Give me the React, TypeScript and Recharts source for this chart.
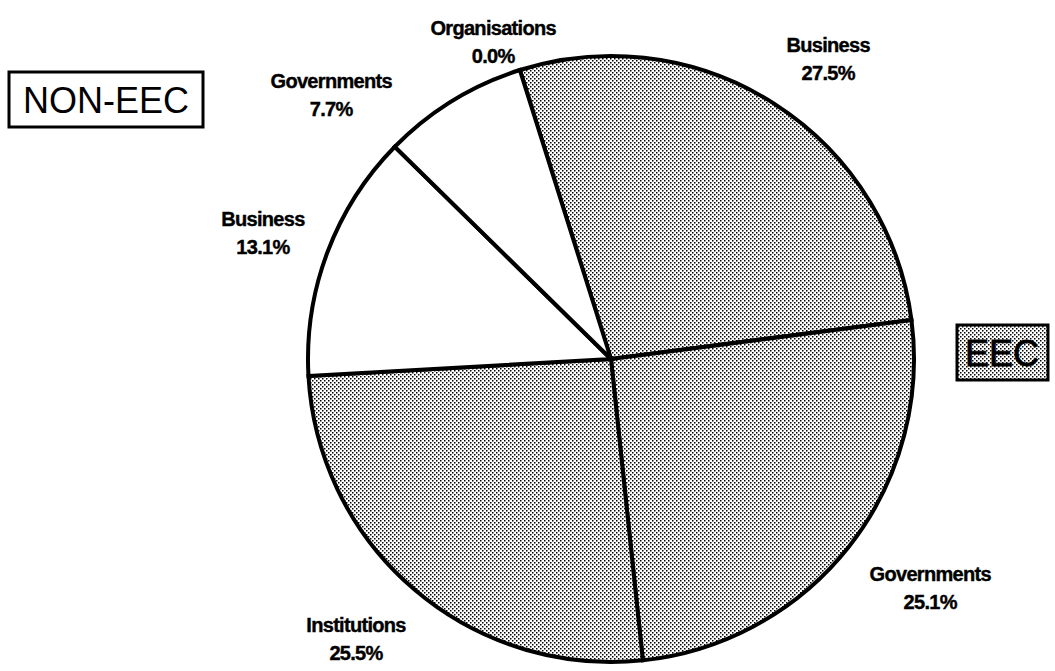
import React from "react";
import { PieChart, Pie, Cell } from "recharts";

const categories = ["Business", "Governments", "Institutions", "Business", "Governments", "Organisations"];
const groups = ["EEC", "EEC", "EEC", "NON-EEC", "NON-EEC", "NON-EEC"];
const shares = [27.5, 25.1, 25.5, 13.1, 7.7, 0.0];
const valueLabels = ["27.5%", "25.1%", "25.5%", "13.1%", "7.7%", "0.0%"];

// label layout (polar, relative to slice mid-angle)
const labelRadius = [370, 393, 379, 370, 385, 338];
const labelAngleShift = [-3.4, 2.6, -1.9, 0.8, 15.1, 2.9];

const data = categories.map((c, i) => ({ name: c, group: groups[i], value: shares[i], label: valueLabels[i] }));

const FONT = "'Liberation Sans', Arial, Helvetica, sans-serif";

const renderLabel = (props: any) => {
  const { cx, cy, midAngle, index } = props;
  const a = ((midAngle + labelAngleShift[index]) * Math.PI) / 180;
  const r = labelRadius[index];
  const x = cx + r * Math.cos(a);
  const y = cy - r * Math.sin(a);
  return (
    <text
      key={"lbl" + index}
      x={x}
      y={y}
      textAnchor="middle"
      fontFamily={FONT}
      fontWeight="bold"
      fontSize={20}
      letterSpacing={-0.7}
      fill="#000"
      stroke="#000"
      strokeWidth={0.4}
    >
      <tspan x={x} y={y - 7}>{categories[index]}</tspan>
      <tspan x={x} y={y + 21}>{valueLabels[index]}</tspan>
    </text>
  );
};

export default function App() {
  return (
    <div style={{ position: "absolute", left: 0, top: 0, width: 1055, height: 671, background: "#fff", overflow: "hidden" }}>
      <svg width={0} height={0} style={{ position: "absolute" }}>
        <defs>
          <pattern id="dots" width={4} height={4} patternUnits="userSpaceOnUse">
            <rect width={4} height={4} fill="#fff" />
            <rect x={0} y={0} width={1.5} height={1.5} fill="#000" />
            <rect x={2} y={2} width={1.5} height={1.5} fill="#000" />
          </pattern>
        </defs>
      </svg>
      <PieChart width={1055} height={671}>
        <Pie
          data={data}
          dataKey="value"
          nameKey="name"
          cx={606}
          cy={354}
          outerRadius={303}
          startAngle={107.5}
          endAngle={-252.5}
          stroke="#000"
          strokeWidth={4}
          label={renderLabel}
          labelLine={false}
          isAnimationActive={false}
        >
          {data.map((d, i) => (
            <Cell key={i} fill={d.group === "EEC" ? "url(#dots)" : "#fff"} stroke="#000" strokeWidth={4} />
          ))}
        </Pie>
      </PieChart>
      <svg width={1055} height={671} style={{ position: "absolute", left: 0, top: 0, pointerEvents: "none" }}>
        <rect x={9} y={72} width={194} height={55} fill="#fff" stroke="#000" strokeWidth={3} />
        <text x={106} y={113} textAnchor="middle" fontFamily={FONT} fontSize={36} fill="#000">NON-EEC</text>
        <rect x={957} y={325} width={91} height={55} fill="url(#dots)" stroke="#000" strokeWidth={3} />
        <text x={1002} y={366} textAnchor="middle" fontFamily={FONT} fontSize={36} fill="#000" stroke="#000" strokeWidth={0.8}>EEC</text>
      </svg>
    </div>
  );
}
